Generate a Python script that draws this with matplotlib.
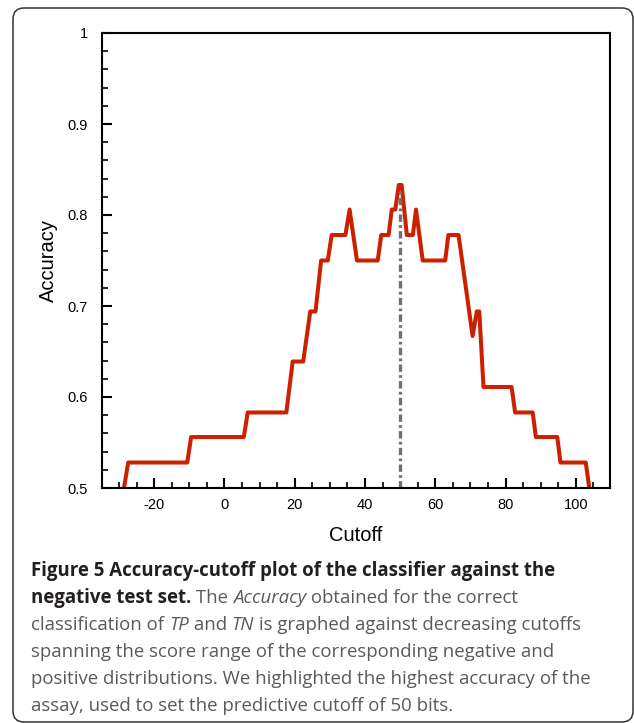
import numpy as np
import matplotlib
matplotlib.use("Agg")
import matplotlib.pyplot as plt
from matplotlib.patches import FancyBboxPatch
from matplotlib.transforms import IdentityTransform
from matplotlib.ticker import MultipleLocator

plt.rcParams["font.family"] = ["Liberation Sans", "DejaVu Sans"]
plt.rcParams["axes.unicode_minus"] = False

#accuracy vs cutoff (steps of ~1/36)
cutoff = [-28.6, -27.4, -10.6, -9.5, 5.5, 6.6, 17.6, 19.4, 22.4, 24.4, 25.9, 27.5,
          29.4, 30.5, 34.4, 35.6, 37.7, 43.6, 44.6, 46.7, 47.6, 48.6, 49.6, 50.4,
          51.9, 53.6, 54.5, 56.4, 62.8, 63.7, 66.6, 70.6, 71.8, 72.5, 73.7, 81.7,
          82.7, 87.7, 88.6, 94.7, 95.6, 102.8, 103.8]
accuracy = [0.5, 0.528, 0.528, 0.556, 0.556, 0.583, 0.583, 0.639, 0.639, 0.694, 0.694, 0.75,
            0.75, 0.778, 0.778, 0.806, 0.75, 0.75, 0.778, 0.778, 0.806, 0.806, 0.833, 0.833,
            0.778, 0.778, 0.806, 0.75, 0.75, 0.778, 0.778, 0.667, 0.694, 0.694, 0.611, 0.611,
            0.583, 0.583, 0.556, 0.556, 0.528, 0.528, 0.5]
best_cutoff = 50
best_line_top = 0.826

x_ticks = [-20, 0, 20, 40, 60, 80, 100]
y_ticks = [0.5, 0.6, 0.7, 0.8, 0.9, 1.0]
y_ticklabels = ["0.5", "0.6", "0.7", "0.8", "0.9", "1"]

caption = [
    [("Figure 5 Accuracy-cutoff plot of the classifier against the", "bold", "normal")],
    [("negative test set.", "bold", "normal"), (" The ", "normal", "normal"),
     ("Accuracy", "normal", "italic"), (" obtained for the correct", "normal", "normal")],
    [("classification of ", "normal", "normal"), ("TP", "normal", "italic"),
     (" and ", "normal", "normal"), ("TN", "normal", "italic"),
     (" is graphed against decreasing cutoffs", "normal", "normal")],
    [("spanning the score range of the corresponding negative and", "normal", "normal")],
    [("positive distributions. We highlighted the highest accuracy of the", "normal", "normal")],
    [("assay, used to set the predictive cutoff of 50 bits.", "normal", "normal")],
]

W, H = 634, 723
fig = plt.figure(figsize=(W/100, H/100), dpi=100)
ax = fig.add_axes([101.5/W, 1 - 488/H, 508.5/W, 455/H])

ax.plot(cutoff, accuracy, color="#cc2000", linewidth=2.9, solid_joinstyle="round")
ax.plot([best_cutoff, best_cutoff], [0.5, best_line_top], color="#707070",
        linewidth=2.4, linestyle=(0, (2.2, 1.0, 0.8, 1.0)))

ax.set_xlim(-35, 109.7)
ax.set_ylim(0.5, 1.0)
ax.set_xticks(x_ticks)
ax.set_yticks(y_ticks)
ax.set_yticklabels(y_ticklabels)
ax.xaxis.set_minor_locator(MultipleLocator(5))
ax.yaxis.set_minor_locator(MultipleLocator(0.02))
for s in ax.spines.values():
    s.set_linewidth(1.5)
ax.tick_params(which="both", direction="in", top=False, right=False, width=1.5)
ax.tick_params(which="major", length=7.5, labelsize=10.5)
ax.tick_params(which="minor", length=4.5, width=1.2)
ax.tick_params(axis="x", pad=7)
ax.tick_params(axis="y", pad=10)

ax.set_xlabel("Cutoff", fontsize=14.5, va="center")
ax.xaxis.set_label_coords(0.5, -0.105)
ax.set_ylabel("Accuracy", fontsize=14.5, va="center")
ax.yaxis.set_label_coords(-0.105, 0.5)

#rounded frame round the whole figure (pixel coords)
frame = FancyBboxPatch((13, 1), 620, 714, boxstyle="round,pad=0,rounding_size=11",
                       transform=IdentityTransform(), fill=False,
                       edgecolor="#333333", linewidth=1.1)
fig.patches.append(frame)

#caption, segment by segment so bold / italic / colour can change inside a line
renderer = fig.canvas.get_renderer()
cap_size = 13.4
for i, parts in enumerate(caption):
    x = 31
    y = H - (576 + 27 * i)
    for txt, weight, style in parts:
        color = "#231f20" if weight == "bold" else "#5a5a5a"
        t = fig.text(x/W, y/H, txt, fontfamily="Open Sans", fontsize=cap_size,
                     fontweight=weight, fontstyle=style, color=color, va="baseline")
        x += t.get_window_extent(renderer).width

fig.savefig("out.png", dpi=100)
